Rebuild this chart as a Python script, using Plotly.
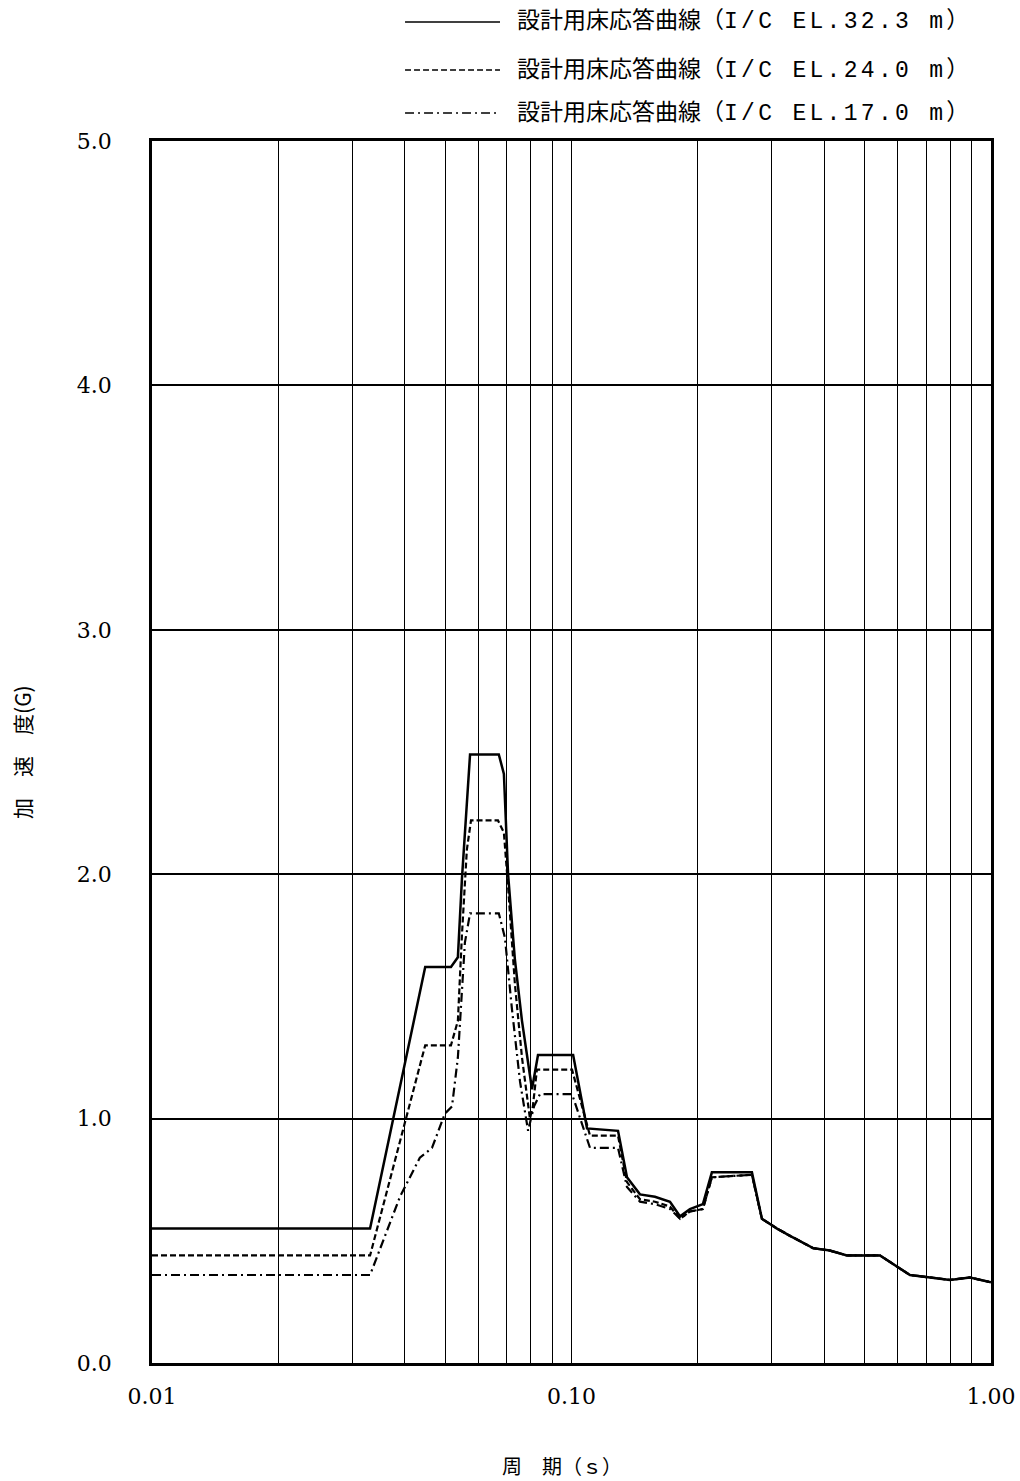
import plotly.graph_objects as go

# Floor response spectra (design), period [s] vs acceleration [G]
period_323 = [0.01, 0.0331, 0.0448, 0.0516, 0.0536, 0.0548, 0.0573, 0.0671, 0.0690, 0.0706,
              0.0733, 0.0762, 0.0805, 0.0832, 0.1009, 0.1089, 0.1291, 0.1356, 0.1456, 0.1581,
              0.1717, 0.1815, 0.1916, 0.2057, 0.2161, 0.2692, 0.2844, 0.3090, 0.3318, 0.3766,
              0.4130, 0.4535, 0.5437, 0.641, 0.716, 0.798, 0.891, 1.0]
accel_323 = [0.55, 0.55, 1.62, 1.62, 1.66, 1.98, 2.49, 2.49, 2.41, 2.00,
             1.65, 1.40, 1.12, 1.26, 1.26, 0.96, 0.95, 0.76, 0.69, 0.68,
             0.66, 0.60, 0.63, 0.65, 0.78, 0.78, 0.59, 0.55, 0.52, 0.47,
             0.46, 0.44, 0.44, 0.36, 0.35, 0.34, 0.35, 0.33]

period_240 = [0.01, 0.0331, 0.0448, 0.0516, 0.0536, 0.0548, 0.0563, 0.0576, 0.0668, 0.0690,
              0.0706, 0.0733, 0.0762, 0.0796, 0.0809, 0.0827, 0.1003, 0.1107, 0.1291, 0.1356,
              0.1456, 0.1581, 0.1717, 0.1815, 0.1916, 0.2057, 0.2161, 0.2692, 0.2844, 0.3090,
              0.3318, 0.3766, 0.4130, 0.4535, 0.5437, 0.641, 0.716, 0.798, 0.891, 1.0]
accel_240 = [0.44, 0.44, 1.30, 1.30, 1.40, 1.75, 2.10, 2.22, 2.22, 2.17,
             1.95, 1.55, 1.25, 1.00, 1.05, 1.20, 1.20, 0.93, 0.93, 0.74,
             0.67, 0.66, 0.64, 0.59, 0.62, 0.63, 0.76, 0.77, 0.59, 0.55,
             0.52, 0.47, 0.46, 0.44, 0.44, 0.36, 0.35, 0.34, 0.35, 0.33]

period_170 = [0.01, 0.0331, 0.0390, 0.0435, 0.0465, 0.0499, 0.0519, 0.0536, 0.0557, 0.0573,
              0.0671, 0.0694, 0.0721, 0.0754, 0.0788, 0.0814, 0.0841, 0.1003, 0.1107, 0.1291,
              0.1356, 0.1456, 0.1581, 0.1717, 0.1815, 0.1916, 0.2057, 0.2161, 0.2692, 0.2844,
              0.3090, 0.3318, 0.3766, 0.4130, 0.4535, 0.5437, 0.641, 0.716, 0.798, 0.891, 1.0]
accel_170 = [0.36, 0.36, 0.68, 0.84, 0.88, 1.02, 1.05, 1.25, 1.72, 1.84,
             1.84, 1.74, 1.45, 1.15, 0.95, 1.05, 1.10, 1.10, 0.88, 0.88,
             0.72, 0.66, 0.65, 0.63, 0.59, 0.62, 0.63, 0.76, 0.77, 0.59,
             0.55, 0.52, 0.47, 0.46, 0.44, 0.44, 0.36, 0.35, 0.34, 0.35, 0.33]

series_title = "設計用床応答曲線"
series_levels = ["I/C EL.32.3 m", "I/C EL.24.0 m", "I/C EL.17.0 m"]
series_dash = ["solid", "6px,3px", "9px,4px,2px,4px"]
series_width = [2.5, 2.2, 2.2]

x_grid = [0.01, 0.02, 0.03, 0.04, 0.05, 0.06, 0.07, 0.08, 0.09,
          0.1, 0.2, 0.3, 0.4, 0.5, 0.6, 0.7, 0.8, 0.9, 1.0]
x_labels = {0.01: "0.01", 0.1: "0.10", 1.0: "1.00"}
y_ticks = [0, 1, 2, 3, 4, 5]
y_labels = ["0.0", "1.0", "2.0", "3.0", "4.0", "5.0"]

fig = go.Figure()
for xs, ys, level, dash, w in zip([period_323, period_240, period_170],
                                  [accel_323, accel_240, accel_170],
                                  series_levels, series_dash, series_width):
    fig.add_trace(go.Scatter(x=xs, y=ys, mode="lines",
                             name=f"{series_title}（{level}）",
                             line=dict(color="black", width=w, dash=dash),
                             showlegend=False))

tick_font = dict(family="DejaVu Serif, Liberation Serif, serif", size=22, color="black")

fig.update_xaxes(type="log", range=[-2, 0],
                 tickmode="array", tickvals=x_grid,
                 ticktext=[x_labels.get(v, "") for v in x_grid],
                 showgrid=True, gridcolor="black", gridwidth=1.3,
                 showline=True, linecolor="black", linewidth=2.5, mirror=True,
                 ticks="", tickfont=tick_font, ticklabelstandoff=12,
                 zeroline=False, automargin=False)
fig.update_yaxes(range=[0, 5], tickmode="array", tickvals=y_ticks, ticktext=y_labels,
                 showgrid=True, gridcolor="black", gridwidth=1.8,
                 showline=True, linecolor="black", linewidth=2.5, mirror=True,
                 ticks="", tickfont=tick_font, ticklabelstandoff=33,
                 zeroline=False, automargin=False)

# Legend drawn above the plot: sample line + label per series
legend_rows_y = [1.0974, 1.0581, 1.0229]
label_font = dict(family="Liberation Mono, Noto Sans CJK JP, monospace", size=23, color="black")
for level, dash, ly in zip(series_levels, series_dash, legend_rows_y):
    fig.add_shape(type="line", xref="paper", yref="paper",
                  x0=0.3016, x1=0.4148, y0=ly, y1=ly,
                  line=dict(color="black", width=1.5, dash=dash))
    label = (f"{series_title}（<span style='letter-spacing:3.3px'>{level}</span>）")
    fig.add_annotation(xref="paper", yref="paper", x=0.433, y=ly,
                       text=label, showarrow=False, xanchor="left", yanchor="middle",
                       font=label_font)

title_font = dict(family="Noto Sans CJK JP, sans-serif", size=21, color="black")
fig.add_annotation(xref="paper", yref="paper", x=-0.155, y=0.500,
                   text="加　速　度(G)", textangle=-90, showarrow=False,
                   xanchor="center", yanchor="middle", font=title_font)
fig.add_annotation(xref="paper", yref="paper", x=0.4887, y=-0.0835,
                   text="周　期（ｓ）", showarrow=False,
                   xanchor="center", yanchor="middle",
                   font=dict(family="Noto Sans CJK JP, sans-serif", size=20, color="black"))

fig.update_layout(width=1020, height=1481,
                  margin=dict(l=152, r=29, t=141, b=118),
                  paper_bgcolor="white", plot_bgcolor="white")

fig.write_html("out.html")
